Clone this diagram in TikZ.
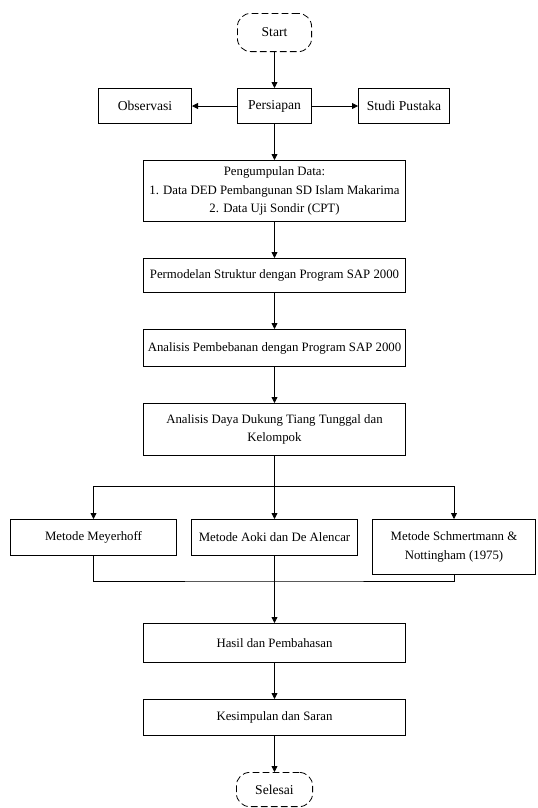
\documentclass[tikz,border=0pt]{standalone}
\usepackage{fontspec}
\setmainfont{Liberation Serif}
\usetikzlibrary{arrows.meta,positioning}
\tikzset{
  box/.style  = {draw, rectangle, line width=0.6pt, align=center,
                 minimum height=27.15pt, inner sep=2pt,
                 font=\fontsize{9.6}{13.9}\selectfont},
  col/.style  = {box, minimum width=196.65pt},
  met/.style  = {box, minimum width=124.65pt},
  top/.style  = {box, font=\fontsize{10.2}{13.9}\selectfont},
  term/.style = {draw, rectangle, rounded corners=10pt, line width=0.6pt,
                 dash pattern=on 5pt off 2.5pt, align=center,
                 font=\fontsize{10.2}{13.9}\selectfont},
  sig/.style  = {-{Triangle[length=4.5pt,width=4.5pt]}, line width=0.6pt},
}
\begin{document}
\begin{tikzpicture}[node distance=27pt]
\useasboundingbox (0,0) rectangle (402.75pt,-606pt);
\node[term, minimum width=55.65pt, minimum height=28.65pt] (start) at (205.875pt,-24.375pt) {Start};
\node[top, minimum width=55.65pt, minimum height=26.4pt, below=of start] (prep) {Persiapan};
\node[top, minimum width=69.9pt, minimum height=26.4pt, left=33.75pt of prep] (obs) {Observasi};
\node[top, minimum width=68.4pt, minimum height=26.4pt, right=34.5pt of prep] (lit) {Studi Pustaka};
\node[col, minimum height=45.9pt, below=of prep] (data) {Pengumpulan Data:\\1. Data DED Pembangunan SD Islam Makarima\\2. Data Uji Sondir (CPT)};
\node[col, minimum height=25.65pt, below=of data] (model) {Permodelan Struktur dengan Program SAP 2000};
\node[col, minimum height=27.9pt, below=of model] (load) {Analisis Pembebanan dengan Program SAP 2000};
\node[col, minimum height=39.15pt, below=of load] (capa) {Analisis Daya Dukung Tiang Tunggal dan\\Kelompok};
\node[met, below=47.25pt of capa] (aoki) {Metode Aoki dan De Alencar};
\node[met, left=10.5pt of aoki] (meyer) {Metode Meyerhoff};
\node[met, minimum width=122.4pt, minimum height=41.4pt,
      right=10.5pt of aoki.north east, anchor=north west] (schm) {Metode Schmertmann \&\\Nottingham (1975)};
\node[col, minimum height=29.4pt, below=50.25pt of aoki] (hasil) {Hasil dan Pembahasan};
\node[col, below=of hasil] (simpul) {Kesimpulan dan Saran};
\node[term, minimum width=57.15pt, minimum height=25.65pt, below=of simpul] (end) {Selesai};
\coordinate[below=22.5pt of capa] (split);
\coordinate[below=18.75pt of aoki] (merge);
\foreach \a/\b in {start/prep,prep/obs,prep/lit,prep/data,data/model,model/load,
                   load/capa,capa/aoki,aoki/hasil,hasil/simpul,simpul/end}
  \draw[sig] (\a) -- (\b);
\draw[sig] (split) -| (meyer.north);
\draw[sig] (split) -| (schm.north);
\draw[line width=0.6pt] (meyer.south) |- (merge) -| (schm.south);
\end{tikzpicture}
\end{document}
